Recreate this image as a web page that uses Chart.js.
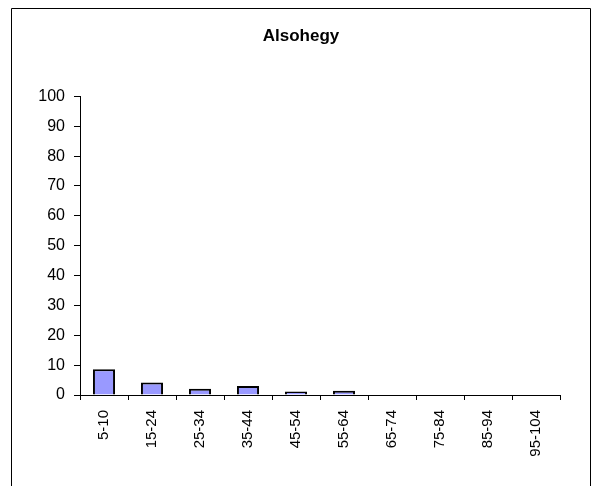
<!DOCTYPE html>
<html>
<head>
<meta charset="utf-8">
<script src="https://cdn.jsdelivr.net/npm/chart.js@4/dist/chart.umd.min.js"></script>
<style>
  html, body { margin: 0; padding: 0; background: #fff; }
  #wrap { width: 602px; height: 486px; position: relative; }
</style>
</head>
<body>
<div id="wrap"><canvas id="c" width="602" height="486"></canvas></div>
<script>
// Age groups and their values
const categories = ['5-10', '15-24', '25-34', '35-44', '45-54', '55-64', '65-74', '75-84', '85-94', '95-104'];
const values = [8.6, 4.2, 2.1, 3.0, 1.2, 1.4, 0, 0, 0, 0];
const yTicks = [0, 10, 20, 30, 40, 50, 60, 70, 80, 90, 100];
const chartTitle = 'Alsohegy';

const FONT = 'Arial, "Liberation Sans", sans-serif';

// Frame around the whole chart (left, top and right edges)
const framePlugin = {
  id: 'frame',
  beforeDraw(chart) {
    const ctx = chart.ctx;
    ctx.save();
    ctx.fillStyle = '#fff';
    ctx.fillRect(0, 0, chart.width, chart.height);
    ctx.strokeStyle = '#000';
    ctx.lineWidth = 1;
    ctx.beginPath();
    ctx.moveTo(11.5, chart.height);
    ctx.lineTo(11.5, 8.5);
    ctx.lineTo(590.5, 8.5);
    ctx.lineTo(590.5, chart.height);
    ctx.stroke();
    ctx.restore();
  }
};

new Chart(document.getElementById('c'), {
  type: 'bar',
  data: {
    labels: categories,
    datasets: [{
      data: values,
      backgroundColor: '#9999FF',
      borderColor: '#000',
      borderWidth: 2,
      borderSkipped: 'bottom',
      categoryPercentage: 1,
      barPercentage: 0.46
    }]
  },
  options: {
    responsive: false,
    animation: false,
    devicePixelRatio: 1,
    layout: { padding: 0 },
    plugins: {
      legend: { display: false },
      tooltip: { enabled: false },
      title: {
        display: true,
        text: chartTitle,
        color: '#000',
        font: { family: FONT, size: 17, weight: 'bold' },
        padding: { top: 26, bottom: 50 }
      }
    },
    scales: {
      x: {
        offset: true,
        grid: {
          offset: true,
          drawOnChartArea: false,
          drawTicks: true,
          tickLength: 5,
          color: '#000'
        },
        border: { color: '#000', width: 1 },
        ticks: {
          color: '#000',
          font: { family: FONT, size: 15 },
          minRotation: 90,
          maxRotation: 90,
          autoSkip: false,
          padding: 10
        },
        afterFit(scale) { scale.height = 91; }
      },
      y: {
        min: 0,
        max: 100,
        afterBuildTicks(scale) { scale.ticks = yTicks.map(v => ({ value: v })); },
        grid: {
          drawOnChartArea: false,
          drawTicks: true,
          tickLength: 6,
          color: '#000'
        },
        border: { color: '#000', width: 1 },
        ticks: {
          color: '#000',
          font: { family: FONT, size: 16 },
          padding: 9
        },
        afterFit(scale) { scale.width = 80; }
      },
      // empty right-hand spacer keeping the plot clear of the frame
      spacer: {
        type: 'linear',
        position: 'right',
        min: 0,
        max: 1,
        grid: { display: false },
        border: { display: false },
        ticks: { display: false },
        afterFit(scale) { scale.width = 42; }
      }
    }
  },
  plugins: [framePlugin]
});
</script>
</body>
</html>
